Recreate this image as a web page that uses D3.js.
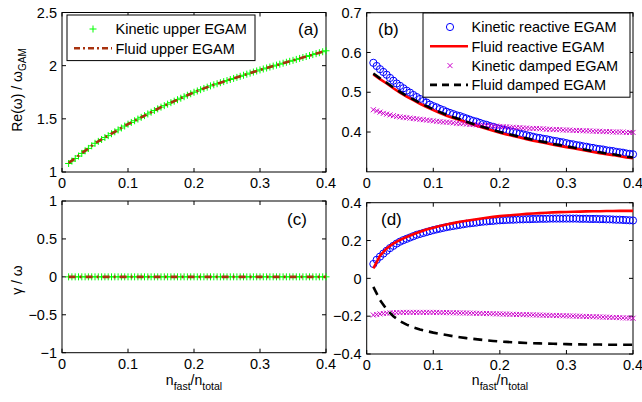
<!DOCTYPE html>
<html>
<head>
<meta charset="utf-8">
<script src="https://cdn.jsdelivr.net/npm/d3@7"></script>
<style>
body { margin: 0; background: #fff; }
svg { font-family: "Liberation Sans", Arial, Helvetica, sans-serif; }
</style>
</head>
<body>
<svg id="chart" width="642" height="402"></svg>
<script>
// kinetic runs: n_fast/n_total grid (step 0.005)
const kinX = [0.010,0.015,0.020,0.025,0.030,0.035,0.040,0.045,0.050,0.055,0.060,0.065,0.070,0.075,0.080,0.085,0.090,0.095,
	0.100,0.105,0.110,0.115,0.120,0.125,0.130,0.135,0.140,0.145,0.150,0.155,0.160,0.165,0.170,0.175,0.180,0.185,0.190,0.195,
	0.200,0.205,0.210,0.215,0.220,0.225,0.230,0.235,0.240,0.245,0.250,0.255,0.260,0.265,0.270,0.275,0.280,0.285,0.290,0.295,
	0.300,0.305,0.310,0.315,0.320,0.325,0.330,0.335,0.340,0.345,0.350,0.355,0.360,0.365,0.370,0.375,0.380,0.385,0.390,0.395,0.400];
// fluid model grid (step 0.01)
const fluidX = [0.01,0.02,0.03,0.04,0.05,0.06,0.07,0.08,0.09,0.10,0.11,0.12,0.13,0.14,0.15,0.16,0.17,0.18,0.19,0.20,
	0.21,0.22,0.23,0.24,0.25,0.26,0.27,0.28,0.29,0.30,0.31,0.32,0.33,0.34,0.35,0.36,0.37,0.38,0.39,0.40];

// (a) Re(w)/w_GAM, upper EGAM
const kinUpperRe = [1.080,1.103,1.127,1.150,1.175,1.199,1.222,1.246,1.270,1.288,1.306,1.324,1.342,1.360,1.378,1.396,1.414,1.432,
	1.450,1.466,1.482,1.498,1.514,1.530,1.546,1.562,1.578,1.594,1.610,1.624,1.638,1.652,1.666,1.680,1.694,1.708,1.722,1.736,
	1.750,1.762,1.774,1.786,1.798,1.810,1.820,1.830,1.840,1.850,1.860,1.870,1.880,1.890,1.900,1.910,1.920,1.930,1.940,1.950,
	1.960,1.969,1.978,1.987,1.996,2.005,2.014,2.023,2.032,2.041,2.050,2.059,2.068,2.077,2.086,2.095,2.104,2.113,2.122,2.131,2.140];
const fluidUpperRe = [1.085,1.130,1.177,1.223,1.270,1.306,1.342,1.378,1.414,1.450,1.482,1.514,1.546,1.578,1.610,1.638,1.666,1.694,1.722,1.750,
	1.774,1.798,1.820,1.840,1.860,1.880,1.900,1.920,1.940,1.960,1.978,1.996,2.014,2.032,2.050,2.068,2.086,2.104,2.122,2.140];

// (c) gamma/w, upper EGAM (undamped)
const kinUpperGam = [0,0,0,0,0,0,0,0,0,0,0,0,0,0,0,0,0,0,0,0,0,0,0,0,0,0,0,0,0,0,0,0,0,0,0,0,0,0,0,0,
	0,0,0,0,0,0,0,0,0,0,0,0,0,0,0,0,0,0,0,0,0,0,0,0,0,0,0,0,0,0,0,0,0,0,0,0,0,0,0];
const fluidUpperGam = [0,0,0,0,0,0,0,0,0,0,0,0,0,0,0,0,0,0,0,0,0,0,0,0,0,0,0,0,0,0,0,0,0,0,0,0,0,0,0,0];

// (b) Re(w)/w_GAM, reactive and damped EGAM
const kinReactRe = [.574,.566,.558,.551,.544,.536,.529,.522,.516,.510,.504,.499,.493,.488,.483,.478,.474,.469,
	.465,.462,.458,.455,.451,.448,.445,.442,.440,.437,.434,.431,.428,.426,.423,.420,.418,.415,.413,.410,
	.408,.406,.404,.402,.400,.398,.396,.394,.392,.390,.388,.386,.385,.383,.382,.380,.378,.377,.375,.374,
	.372,.370,.369,.367,.366,.364,.363,.361,.360,.358,.357,.356,.354,.353,.352,.350,.349,.348,.346,.345,.344];
const fluidReactRe = [.545,.533,.522,.510,.499,.489,.480,.471,.463,.455,.448,.441,.435,.430,.424,.418,.413,.408,.403,.398,
	.394,.390,.386,.382,.378,.375,.372,.368,.365,.362,.359,.356,.353,.350,.347,.344,.342,.339,.336,.334];
const kinDampRe = [.456,.453,.450,.447,.445,.443,.441,.439,.438,.437,.436,.435,.434,.433,.432,.431,.430,.429,
	.428,.427,.426,.425,.425,.424,.423,.422,.421,.421,.420,.419,.419,.418,.417,.417,.416,.416,.415,.415,
	.414,.413,.413,.412,.412,.411,.411,.410,.410,.409,.409,.409,.408,.408,.407,.407,.406,.406,.406,.405,
	.405,.405,.404,.404,.404,.403,.403,.403,.402,.402,.402,.401,.401,.401,.400,.400,.400,.400,.399,.399,.399];
const fluidDampRe = [.547,.535,.524,.512,.501,.491,.482,.473,.465,.457,.450,.443,.437,.432,.426,.420,.415,.410,.405,.400,
	.396,.392,.388,.384,.380,.377,.374,.370,.367,.364,.361,.358,.355,.352,.349,.346,.344,.341,.338,.336];

// (d) gamma/w, reactive and damped EGAM
const kinReactGam = [.076,.098,.115,.131,.146,.160,.172,.184,.194,.202,.209,.216,.223,.230,.235,.240,.245,.250,
	.255,.259,.263,.267,.271,.274,.277,.280,.283,.286,.289,.291,.293,.295,.298,.300,.301,.303,.304,.306,
	.307,.308,.309,.310,.310,.311,.312,.312,.313,.313,.314,.314,.315,.315,.315,.316,.316,.316,.316,.316,
	.316,.316,.316,.316,.315,.315,.315,.314,.314,.314,.313,.313,.312,.312,.311,.310,.310,.309,.308,.307,.306];
const fluidReactGam = [.053,.120,.158,.184,.203,.219,.233,.246,.258,.268,.277,.285,.292,.299,.305,.310,.315,.320,.325,.329,
	.332,.335,.338,.341,.343,.345,.347,.349,.350,.351,.352,.353,.354,.355,.355,.356,.356,.357,.357,.357];
const kinDampGam = [-.194,-.191,-.188,-.186,-.184,-.183,-.182,-.181,-.181,-.180,-.180,-.180,-.180,-.180,-.180,-.180,-.180,-.180,
	-.180,-.180,-.181,-.181,-.181,-.182,-.182,-.182,-.183,-.183,-.183,-.184,-.184,-.185,-.185,-.186,-.186,-.187,-.187,-.188,
	-.188,-.189,-.189,-.190,-.190,-.191,-.191,-.192,-.192,-.193,-.193,-.194,-.194,-.195,-.195,-.196,-.196,-.197,-.197,-.198,
	-.198,-.199,-.199,-.200,-.200,-.201,-.202,-.202,-.203,-.203,-.204,-.205,-.205,-.206,-.207,-.207,-.208,-.209,-.209,-.210,-.211];
const fluidDampGam = [-.045,-.115,-.165,-.200,-.226,-.245,-.259,-.270,-.279,-.287,-.294,-.300,-.306,-.311,-.316,-.320,-.324,-.328,-.331,-.334,
	-.336,-.338,-.340,-.342,-.343,-.344,-.345,-.346,-.347,-.348,-.349,-.349,-.350,-.350,-.350,-.351,-.351,-.351,-.351,-.351];

const xTicks = [0, 0.1, 0.2, 0.3, 0.4];
const legendA = ["Kinetic upper EGAM", "Fluid upper EGAM"];
const legendB = ["Kinetic reactive EGAM", "Fluid reactive EGAM", "Kinetic damped EGAM", "Fluid damped EGAM"];

const GREEN = "#00ff00", BROWN = "#a8320e", BLUE = "#0000ff", RED = "#ff0000", MAGENTA = "#cc00cc", BLACK = "#000";

let svg = d3.select("#chart");
const fmt = d => String(d).replace("-", "\u2212");

let makePanel = function(cfg) {
	let x = d3.scaleLinear().domain([0, 0.4]).range([cfg.left, cfg.right]);
	let y = d3.scaleLinear().domain(cfg.yDomain).range([cfg.bottom, cfg.top]);
	let g = svg.append("g");
	let tl = 4;

	// ticks, mirrored on all four sides, pointing inwards
	xTicks.forEach(t => {
		g.append("line").attr("x1", x(t)).attr("x2", x(t)).attr("y1", cfg.bottom).attr("y2", cfg.bottom - tl).attr("stroke", "#000");
		g.append("line").attr("x1", x(t)).attr("x2", x(t)).attr("y1", cfg.top).attr("y2", cfg.top + tl).attr("stroke", "#000");
		g.append("text").attr("x", x(t)).attr("y", cfg.bottom + 16).attr("text-anchor", "middle")
			.attr("font-size", 14.5).text(fmt(t));
	});
	cfg.yTicks.forEach(t => {
		g.append("line").attr("x1", cfg.left).attr("x2", cfg.left + tl).attr("y1", y(t)).attr("y2", y(t)).attr("stroke", "#000");
		g.append("line").attr("x1", cfg.right).attr("x2", cfg.right - tl).attr("y1", y(t)).attr("y2", y(t)).attr("stroke", "#000");
		g.append("text").attr("x", cfg.left - 5).attr("y", y(t)).attr("dy", "0.36em").attr("text-anchor", "end")
			.attr("font-size", 14.5).text(fmt(t));
	});

	g.append("rect").attr("x", cfg.left).attr("y", cfg.top)
		.attr("width", cfg.right - cfg.left).attr("height", cfg.bottom - cfg.top)
		.attr("fill", "none").attr("stroke", "#000").attr("stroke-width", 1);

	return { x, y, g };
};

let plusPath = (cx, cy, s) => `M${cx - s},${cy}H${cx + s}M${cx},${cy - s}V${cy + s}`;
let crossPath = (cx, cy, s) => `M${cx - s},${cy - s}L${cx + s},${cy + s}M${cx - s},${cy + s}L${cx + s},${cy - s}`;

let drawPlus = function(p, xs, ys) {
	p.g.append("g").selectAll("path").data(d3.zip(xs, ys)).enter().append("path")
		.attr("d", d => plusPath(p.x(d[0]), p.y(d[1]), 3.5))
		.attr("stroke", GREEN).attr("stroke-width", 1).attr("fill", "none");
};
let drawCross = function(p, xs, ys) {
	p.g.append("g").selectAll("path").data(d3.zip(xs, ys)).enter().append("path")
		.attr("d", d => crossPath(p.x(d[0]), p.y(d[1]), 2.5))
		.attr("stroke", MAGENTA).attr("stroke-width", 1).attr("fill", "none");
};
let drawCircles = function(p, xs, ys) {
	p.g.append("g").selectAll("circle").data(d3.zip(xs, ys)).enter().append("circle")
		.attr("cx", d => p.x(d[0])).attr("cy", d => p.y(d[1])).attr("r", 3.6)
		.attr("stroke", BLUE).attr("stroke-width", 1).attr("fill", "none");
};
let drawLine = function(p, xs, ys, color, dash) {
	let line = d3.line().x(d => p.x(d[0])).y(d => p.y(d[1]));
	p.g.append("path").datum(d3.zip(xs, ys)).attr("d", line)
		.attr("fill", "none").attr("stroke", color).attr("stroke-width", 2.6)
		.attr("stroke-dasharray", dash || null);
};

const dashDot = "7,4,2,4", dashed = "9,6";

// panels
let pa = makePanel({ left: 62, right: 326, top: 12.5, bottom: 172, yDomain: [1, 2.5], yTicks: [1, 1.5, 2, 2.5] });
let pb = makePanel({ left: 366.7, right: 633, top: 12.7, bottom: 171.8, yDomain: [0.3, 0.7], yTicks: [0.4, 0.5, 0.6, 0.7] });
let pc = makePanel({ left: 62, right: 326, top: 201, bottom: 352.7, yDomain: [-1, 1], yTicks: [-1, -0.5, 0, 0.5, 1] });
let pd = makePanel({ left: 366.7, right: 633, top: 202.7, bottom: 354, yDomain: [-0.4, 0.4], yTicks: [-0.4, -0.2, 0, 0.2, 0.4] });

drawPlus(pa, kinX, kinUpperRe);
drawLine(pa, fluidX, fluidUpperRe, BROWN, dashDot);

drawCircles(pb, kinX, kinReactRe);
drawLine(pb, fluidX, fluidReactRe, RED);
drawCross(pb, kinX, kinDampRe);
drawLine(pb, fluidX, fluidDampRe, BLACK, dashed);

drawPlus(pc, kinX, kinUpperGam);
drawLine(pc, fluidX, fluidUpperGam, BROWN, dashDot);

drawCircles(pd, kinX, kinReactGam);
drawLine(pd, fluidX, fluidReactGam, RED);
drawCross(pd, kinX, kinDampGam);
drawLine(pd, fluidX, fluidDampGam, BLACK, dashed);

// panel tags
[[pa, "(a)", 298, 35], [pb, "(b)", 378, 35], [pc, "(c)", 287, 225], [pd, "(d)", 381, 225]].forEach(t => {
	svg.append("text").attr("x", t[2]).attr("y", t[3]).attr("font-size", 17).text(t[1]);
});

// legends
let legend = function(x0, y0, w, labels, samples) {
	let lg = svg.append("g");
	lg.append("rect").attr("x", x0).attr("y", y0).attr("width", w).attr("height", labels.length * 19.3 + 7)
		.attr("fill", "#fff").attr("stroke", "#000").attr("stroke-width", 1);
	labels.forEach((lab, i) => {
		let cy = y0 + 14 + i * 19.3;
		let s = samples[i];
		if (s.type === "line") {
			lg.append("line").attr("x1", x0 + 7).attr("x2", x0 + 45).attr("y1", cy).attr("y2", cy)
				.attr("stroke", s.color).attr("stroke-width", 2.6).attr("stroke-dasharray", s.dash || null);
		} else if (s.type === "plus") {
			lg.append("path").attr("d", plusPath(x0 + 26, cy, 3.5)).attr("stroke", GREEN).attr("fill", "none");
		} else if (s.type === "circle") {
			lg.append("circle").attr("cx", x0 + 27).attr("cy", cy).attr("r", 3.6).attr("stroke", BLUE).attr("fill", "none");
		} else if (s.type === "cross") {
			lg.append("path").attr("d", crossPath(x0 + 27, cy, 2.5)).attr("stroke", MAGENTA).attr("fill", "none");
		}
		lg.append("text").attr("x", x0 + 48.5).attr("y", cy).attr("dy", "0.36em").attr("font-size", 14.5).text(lab);
	});
};
legend(67, 15, 188, legendA, [{ type: "plus" }, { type: "line", color: BROWN, dash: "6,3,2,3" }]);
legend(423, 13, 207, legendB, [{ type: "circle" }, { type: "line", color: RED }, { type: "cross" }, { type: "line", color: BLACK, dash: "7,5" }]);

// axis titles
let yl1 = svg.append("text").attr("transform", "translate(22,90) rotate(-90)").attr("text-anchor", "middle").attr("font-size", 14);
yl1.append("tspan").text("Re(\u03c9) / \u03c9");
yl1.append("tspan").attr("dy", 4).attr("font-size", 10).text("GAM");

svg.append("text").attr("transform", "translate(22,280) rotate(-90)").attr("text-anchor", "middle")
	.attr("font-size", 14).text("\u03b3 / \u03c9");

[194, 500].forEach(cx => {
	let t = svg.append("text").attr("x", cx).attr("y", 385).attr("text-anchor", "middle").attr("font-size", 14);
	t.append("tspan").text("n");
	t.append("tspan").attr("dy", 5).attr("font-size", 10.5).text("fast");
	t.append("tspan").attr("dy", -5).text("/n");
	t.append("tspan").attr("dy", 5).attr("font-size", 10.5).text("total");
});
</script>
</body>
</html>
